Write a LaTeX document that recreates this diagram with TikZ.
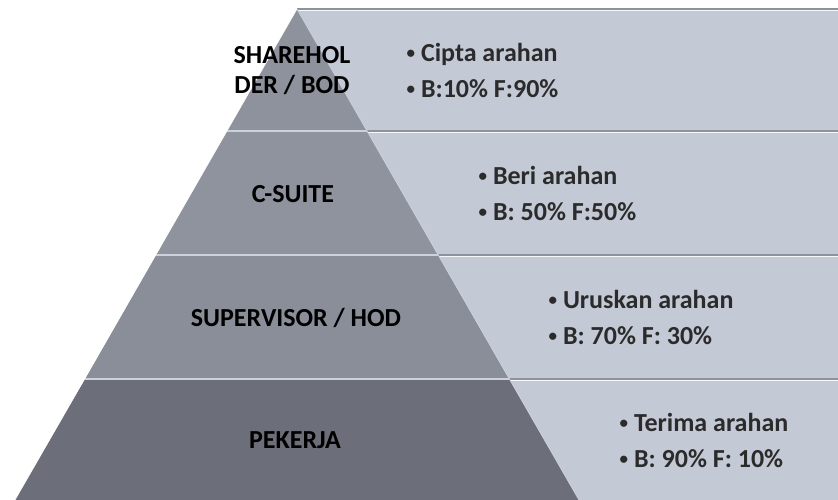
\documentclass[tikz,border=0pt]{standalone}
\usepackage{fontspec}
\setmainfont{Carlito}
\usetikzlibrary{positioning}
\definecolor{panel}{HTML}{C4C9D6}
\definecolor{panelline}{HTML}{8E929D}
\definecolor{tierA}{HTML}{8E929D}
\definecolor{tierB}{HTML}{8F939E}
\definecolor{tierC}{HTML}{8A8E99}
\definecolor{tierD}{HTML}{6C6F79}
\definecolor{tierline}{HTML}{CDD1DB}
\definecolor{bullettext}{HTML}{2B2B2B}
\newcommand{\dotmark}{\raisebox{3pt}{\fontsize{17}{17}\selectfont\textbullet}\hspace{6pt}}

\tikzset{
  tierlabel/.style={font=\fontsize{26}{30}\selectfont\bfseries, text=black, align=center},
  pointlist/.style={font=\fontsize{26}{36}\selectfont\bfseries, text=bullettext, align=left, anchor=west}
}

\begin{document}
\begin{tikzpicture}[x=1pt, y=-1pt]
  \useasboundingbox (0,0) rectangle (838,500);

  % ---- right panels, one per tier ----
  \fill[panel] (297,9) rectangle (838,500);
  \foreach \y in {9,131,255,379} {
    \draw[panelline, line width=1.6pt] (297,\y) -- (838,\y);
    \draw[white!85!panel, line width=0.6pt] (297,\y+1.6) -- (838,\y+1.6);
  }

  % ---- the pyramid, top tier first ----
  \fill[tierA] (297,9) -- (367,131) -- (227,131) -- cycle;
  \fill[tierB] (227,131) -- (367,131) -- (438,255) -- (156,255) -- cycle;
  \fill[tierC] (156,255) -- (438,255) -- (509,379) -- (85,379) -- cycle;
  \fill[tierD] (85,379) -- (509,379) -- (579,500) -- (15,500) -- cycle;

  % light seams between tiers and along the edges
  \draw[tierline, line width=1.2pt] (227,131) -- (367,131);
  \draw[tierline, line width=1.2pt] (156,255) -- (438,255);
  \draw[tierline, line width=1.2pt] (85,379) -- (509,379);
  \draw[tierline, line width=0.8pt] (297,9) -- (579,500);
  \draw[white, line width=0.6pt] (297,9) -- (15,500);

  % ---- tier names ----
  \node[tierlabel] (board) at (292,71) {SHAREHOL\\DER / BOD};
  \node[tierlabel] (csuite) at (293,194) {C-SUITE};
  \node[tierlabel] (supervisor) at (296,318) {SUPERVISOR / HOD};
  \node[tierlabel] (worker) at (295,440) {PEKERJA};

  % ---- what each tier does ----
  \node[pointlist] (boardpts) at (403,70)
    {\dotmark Cipta arahan\\\dotmark B:10\% F:90\%};
  \node[pointlist] (csuitepts) at (475,193)
    {\dotmark Beri arahan\\\dotmark B: 50\% F:50\%};
  \node[pointlist] (supervisorpts) at (545,317)
    {\dotmark Uruskan arahan\\\dotmark B: 70\% F: 30\%};
  \node[pointlist] (workerpts) at (616,440)
    {\dotmark Terima arahan\\\dotmark B: 90\% F: 10\%};

\end{tikzpicture}
\end{document}
